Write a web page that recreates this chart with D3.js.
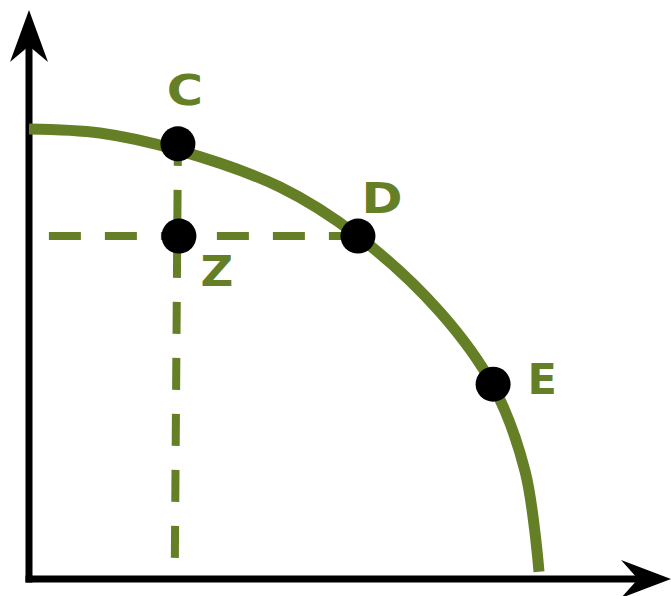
<!DOCTYPE html>
<html>
<head>
<meta charset="utf-8">
<script src="https://cdn.jsdelivr.net/npm/d3@7"></script>
<style>
  html, body { margin: 0; padding: 0; background: #fff; }
  svg { display: block; }
</style>
</head>
<body>
<svg id="chart" width="671" height="596"></svg>
<script>
// frontier (x = good A, y = good B, 0..100)
var frontier = [
    [0, 100], [13.9, 99.1], [29.2, 95.3], [49.2, 87.1], [64.5, 76.2],
    [80.6, 59.3], [91.0, 42.9], [97.3, 23.8], [100, 1.6]
];
var points = [
    {name: "C", x: 29.2, y: 96.7},
    {name: "Z", x: 29.4, y: 76.2},
    {name: "D", x: 64.5, y: 76.2},
    {name: "E", x: 91.0, y: 43.3}
];
var hGuide = [[3.9, 76.2], [64.5, 76.2]];
var vGuide = [[28.6, 4.7], [29.2, 96.7]];

// label placement relative to the point (pixels) and glyph widening
var labelPos = {
    C: {dx: 7, dy: -39, sx: 1.15},
    Z: {dx: 38, dy: 50, sx: 1.05},
    D: {dx: 24, dy: -23, sx: 1.15},
    E: {dx: 49, dy: 10, sx: 1.0}
};

var green = "#657f26";
var svg = d3.select("#chart");

var x = d3.scaleLinear().domain([0, 100]).range([29, 539]);
var y = d3.scaleLinear().domain([0, 100]).range([579, 129]);

var line = d3.line().x(d => x(d[0])).y(d => y(d[1]));

function drawAxes(){
    var ox = x(0), oy = y(0);
    svg.append("line")
        .attr("x1", ox).attr("y1", oy + 3.5)
        .attr("x2", ox).attr("y2", 40)
        .style("stroke", "#000").style("stroke-width", 7);
    svg.append("line")
        .attr("x1", ox - 3.5).attr("y1", oy)
        .attr("x2", 645).attr("y2", oy)
        .style("stroke", "#000").style("stroke-width", 7);
    // arrow heads
    svg.append("path")
        .attr("d", `M${ox},10 L${ox + 19},62 L${ox},46 L${ox - 19},62 Z`)
        .style("fill", "#000");
    svg.append("path")
        .attr("d", `M671,${oy} L621,${oy - 19} L638,${oy} L621,${oy + 19} Z`)
        .style("fill", "#000");
}

function drawGuides(){
    [vGuide, hGuide].forEach(g => {
        svg.append("path")
            .attr("d", line(g))
            .style("fill", "none")
            .style("stroke", green)
            .style("stroke-width", 8)
            .style("stroke-dasharray", "32,24");
    });
}

function drawFrontier(){
    var curve = d3.line()
        .x(d => x(d[0]))
        .y(d => y(d[1]))
        .curve(d3.curveCatmullRom.alpha(0.5));
    svg.append("path")
        .attr("class", "frontier")
        .attr("d", curve(frontier))
        .style("fill", "none")
        .style("stroke", green)
        .style("stroke-width", 11);
}

function drawPoints(){
    svg.selectAll("circle.pt")
        .data(points)
        .enter()
        .append("circle")
        .attr("class", "pt")
        .attr("cx", d => x(d.x))
        .attr("cy", d => y(d.y))
        .attr("r", 17.5)
        .style("fill", "#000");

    svg.selectAll("text.lbl")
        .data(points)
        .enter()
        .append("text")
        .attr("class", "lbl")
        .attr("transform", d => {
            var p = labelPos[d.name];
            return `translate(${x(d.x) + p.dx},${y(d.y) + p.dy}) scale(${p.sx},1)`;
        })
        .attr("text-anchor", "middle")
        .attr("font-family", "DejaVu Sans")
        .attr("font-weight", "bold")
        .attr("font-size", "43px")
        .style("fill", green)
        .text(d => d.name);
}

drawAxes();
drawGuides();
drawFrontier();
drawPoints();
</script>
</body>
</html>
